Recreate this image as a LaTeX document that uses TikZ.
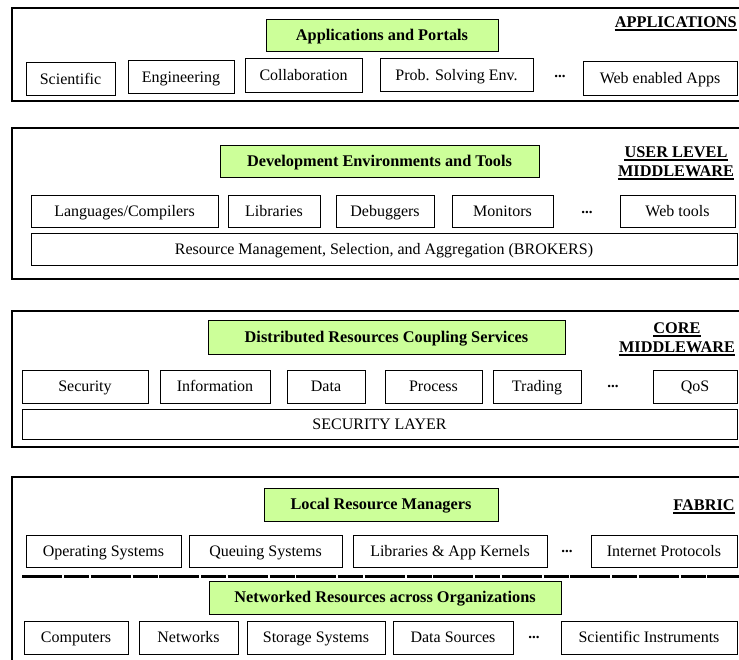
\documentclass[tikz,border=0pt]{standalone}
\usepackage{fontspec}
\setmainfont{Liberation Serif}
\begin{document}
\begin{tikzpicture}[x=1pt,y=-1pt,
  outerbox/.style={draw, line width=2.4pt},
  itembox/.style={draw, line width=1pt, fill=white, inner sep=0pt, text height=13pt, text depth=3pt, font=\rmfamily\fontsize{16}{18}\selectfont},
  greenbox/.style={draw, line width=1pt, fill={rgb,255:red,204;green,255;blue,153}, inner sep=0pt, text height=13pt, text depth=3pt, font=\rmfamily\fontsize{16.3}{18}\selectfont\bfseries},
  dots/.style={inner sep=0pt, font=\rmfamily\fontsize{15}{18}\selectfont\bfseries},
  lbl/.style={inner sep=0pt, font=\rmfamily\fontsize{16.3}{18}\selectfont\bfseries},
  ul/.style={line width=1.5pt},
  sep/.style={line width=2.6pt, dash pattern=on 40pt off 2pt on 25pt off 1.5pt}
]
\useasboundingbox (0,0) rectangle (739,660);
% Layer 1
\draw[outerbox] (12,8) rectangle (760,101);
\node[greenbox, minimum width=232, minimum height=32] (g1) at (382,36) {Applications and Portals};
\node[itembox, minimum width=89, minimum height=33] (a1) at (70.5,79.5) {Scientific};
\node[itembox, minimum width=106, minimum height=33] (a2) at (181,77.5) {Engineering};
\node[itembox, minimum width=117, minimum height=34] (a3) at (303.5,76) {Collaboration};
\node[itembox, minimum width=153, minimum height=33] (a4) at (456.5,75.5) {Prob. Solving Env.};
\node[dots] (ad) at (560,76) {...};
\node[itembox, minimum width=154, minimum height=34] (a5) at (660,79) {Web enabled Apps};
\node[lbl, anchor=east] (l1) at (737,22) {APPLICATIONS};
\draw[ul] ([yshift=-2.5pt]l1.base west) -- ([yshift=-2.5pt]l1.base east);
% Layer 2
\draw[outerbox] (12,128) rectangle (760,279);
\node[greenbox, minimum width=319, minimum height=32] (g2) at (379.5,162) {Development Environments and Tools};
\node[itembox, minimum width=187, minimum height=32] (b1) at (124.5,212) {Languages/Compilers};
\node[itembox, minimum width=92, minimum height=32] (b2) at (274,212) {Libraries};
\node[itembox, minimum width=98, minimum height=32] (b3) at (385,212) {Debuggers};
\node[itembox, minimum width=101, minimum height=32] (b4) at (502.5,212) {Monitors};
\node[dots] (bd) at (587,212) {...};
\node[itembox, minimum width=115, minimum height=32] (b5) at (677.5,212) {Web tools};
\node[itembox, minimum width=706, minimum height=32] (b6) at (384,250) {Resource Management, Selection, and Aggregation (BROKERS)};
\node[lbl] (l2a) at (676,152) {USER LEVEL};
\node[lbl] (l2b) at (676,171) {MIDDLEWARE};
\draw[ul] ([yshift=-2.5pt]l2a.base west) -- ([yshift=-2.5pt]l2a.base east);
\draw[ul] ([yshift=-2.5pt]l2b.base west) -- ([yshift=-2.5pt]l2b.base east);
% Layer 3
\draw[outerbox] (12,311) rectangle (760,447);
\node[greenbox, minimum width=357, minimum height=33] (g3) at (386.5,337.5) {Distributed Resources Coupling Services};
\node[itembox, minimum width=126, minimum height=33] (c1) at (85,386.5) {Security};
\node[itembox, minimum width=110, minimum height=33] (c2) at (215,386.5) {Information};
\node[itembox, minimum width=78, minimum height=33] (c3) at (326,386.5) {Data};
\node[itembox, minimum width=97, minimum height=33] (c4) at (433.5,386.5) {Process};
\node[itembox, minimum width=88, minimum height=33] (c5) at (537,386.5) {Trading};
\node[dots] (cd) at (613,386.5) {...};
\node[itembox, minimum width=84, minimum height=33] (c6) at (695,386.5) {QoS};
\node[itembox, minimum width=715, minimum height=30] (c7) at (379.5,424) {SECURITY LAYER};
\node[lbl] (l3a) at (677,328) {CORE};
\node[lbl] (l3b) at (677,347) {MIDDLEWARE};
\draw[ul] ([yshift=-2.5pt]l3a.base west) -- ([yshift=-2.5pt]l3a.base east);
\draw[ul] ([yshift=-2.5pt]l3b.base west) -- ([yshift=-2.5pt]l3b.base east);
% Layer 4
\draw[outerbox] (12,477) rectangle (760,690);
\node[greenbox, minimum width=234, minimum height=33] (g4) at (381,504.5) {Local Resource Managers};
\node[itembox, minimum width=155, minimum height=32] (d1) at (103.5,551) {Operating Systems};
\node[itembox, minimum width=153, minimum height=32] (d2) at (265.5,551) {Queuing Systems};
\node[itembox, minimum width=194, minimum height=32] (d3) at (450,551) {Libraries \& App Kernels};
\node[dots] (dd) at (567,551) {...};
\node[itembox, minimum width=146, minimum height=32] (d4) at (664,551) {Internet Protocols};
\coordinate (s1) at (22,576.5);
\coordinate (s2) at (745,576.5);
\draw[sep] (s1) -- (s2);
\node[greenbox, minimum width=352, minimum height=33] (g5) at (385,597.5) {Networked Resources across Organizations};
\node[itembox, minimum width=104, minimum height=33] (e1) at (76,637.5) {Computers};
\node[itembox, minimum width=99, minimum height=33] (e2) at (188.5,637.5) {Networks};
\node[itembox, minimum width=138, minimum height=33] (e3) at (316,637.5) {Storage Systems};
\node[itembox, minimum width=120, minimum height=33] (e4) at (453,637.5) {Data Sources};
\node[dots] (ed) at (534,637.5) {...};
\node[itembox, minimum width=176, minimum height=33] (e5) at (649,637.5) {Scientific Instruments};
\node[lbl] (l4) at (704,505) {FABRIC};
\draw[ul] ([yshift=-2.5pt]l4.base west) -- ([yshift=-2.5pt]l4.base east);
\end{tikzpicture}
\end{document}
